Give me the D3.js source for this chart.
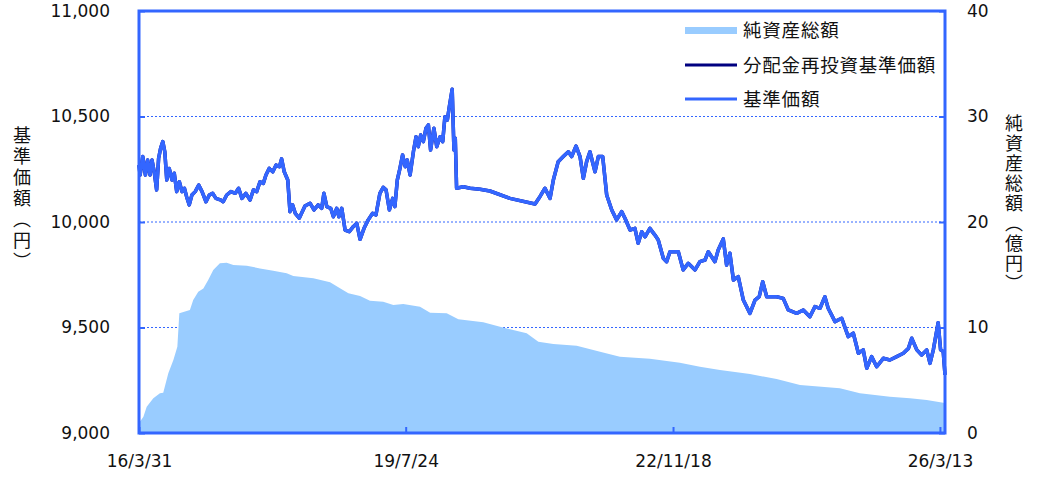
<!DOCTYPE html>
<html>
<head>
<meta charset="utf-8">
<script src="https://cdn.jsdelivr.net/npm/d3@7"></script>
<style>
body{margin:0;background:#fff;}
svg text{font-family:"DejaVu Sans",Verdana,sans-serif;fill:#111;}
svg text.jp{font-family:"Noto Sans CJK JP",sans-serif;}
</style>
</head>
<body>
<svg width="1038" height="478"></svg>
<script>
// days counted from 2016/3/31
var navDays = [0,5,17,29,39,50,59,69,80,89,98,108,117,126,137,150,160,171,183,195,206,216,228,240,255,271,286,304,319,334,349,372,382,398,417,437,452,467,485,504,519,534,549,564,576,591,607,622,637,647,659,675,685,697,709,727,753,776,794,813,829,839,852,870,882,897,907,920,935,954,972,988,1003,1021,1040,1060,1075,1093,1108,1121,1136,1151,1161,1172,1184,1196,1208,1217,1230,1245,1257,1267,1278,1290,1302,1313,1323,1338,1351,1366,1378,1388,1399,1408,1421,1429,1435,1441,1471,1502,1547,1592,1683,1797,1819,1842,1865,1880,1902,1925,1948,1963,1983,2001,2016,2031,2046,2069,2084,2104,2122,2145,2167,2190,2205,2228,2250,2265,2281,2296,2318,2341,2356,2379,2394,2409,2447,2469,2492,2523,2545,2568,2583,2613,2628,2651,2666,2681,2697,2719,2742,2772,2795,2814,2830,2848,2871,2893,2923,2946,2984,3014,3044,3067,3090,3112,3127,3158,3188,3218,3241,3264,3286,3302,3324,3347,3377,3407,3438,3468,3491,3506,3529,3551,3574,3589,3604,3626,3637,3649,3657];
var navValues = [10270,10223,10310,10223,10294,10223,10294,10238,10152,10302,10349,10381,10333,10199,10254,10199,10231,10144,10191,10144,10160,10120,10081,10128,10144,10175,10144,10096,10128,10136,10112,10104,10096,10128,10144,10136,10160,10112,10136,10104,10152,10144,10191,10183,10223,10254,10238,10270,10262,10299,10238,10199,10049,10081,10041,10018,10076,10089,10057,10081,10065,10136,10073,10065,10025,10065,10025,10065,9962,9954,9978,9994,9918,9970,10010,10041,10033,10136,10164,10152,10057,10112,10073,10199,10254,10318,10262,10294,10223,10333,10404,10357,10412,10381,10444,10460,10341,10444,10357,10404,10381,10499,10483,10546,10629,10341,10397,10160,10167,10160,10155,10147,10112,10085,10120,10160,10112,10199,10286,10310,10333,10310,10360,10310,10207,10286,10333,10238,10310,10310,10128,10057,10010,10049,10018,9962,9970,9899,9954,9930,9970,9938,9915,9828,9812,9859,9859,9773,9804,9773,9812,9820,9859,9812,9867,9920,9796,9852,9725,9741,9630,9567,9630,9646,9717,9646,9646,9646,9638,9583,9567,9583,9551,9599,9591,9646,9591,9528,9544,9457,9473,9378,9394,9307,9362,9314,9354,9346,9362,9378,9401,9449,9394,9370,9394,9330,9394,9523,9394,9386,9275];
var aumDays = [0,9,20,35,65,95,110,133,156,174,183,231,246,269,292,314,337,367,398,428,489,549,609,670,700,791,867,912,950,1003,1048,1108,1154,1199,1275,1321,1396,1449,1562,1638,1759,1812,1880,1986,2092,2182,2318,2454,2545,2636,2772,2893,2999,3180,3271,3407,3498,3574,3649,3657];
var aumValues = [1.0,1.2,1.55,2.49,3.29,3.76,3.82,5.66,6.92,8.18,11.35,11.66,12.6,13.4,13.7,14.5,15.45,16.08,16.14,15.92,15.86,15.6,15.38,15.14,14.88,14.66,14.28,13.71,13.24,12.99,12.54,12.45,12.13,12.23,11.97,11.4,11.35,10.78,10.49,10.08,9.45,8.66,8.44,8.28,7.71,7.23,7.04,6.66,6.28,5.97,5.59,5.12,4.55,4.24,3.76,3.44,3.29,3.13,2.87,2.85];
var xTickDates = ["2016-03-31","2019-07-24","2022-11-18","2026-03-13"];
var xTickLabels = ["16/3/31","19/7/24","22/11/18","26/3/13"];
var leftTicks = [9000,9500,10000,10500,11000];
var rightTicks = [0,10,20,30,40];
var legendNames = ["純資産総額","分配金再投資基準価額","基準価額"];
var endDay = 3657;

var svg = d3.select("svg"),
    pLeft = 139, pRight = 945, pTop = 11, pBottom = 433,
    blue = "#3366ff", navy = "#000080", fillc = "#99ccff";

var start = new Date(Date.UTC(2016, 2, 31));
var parseDay = d3.utcParse("%Y-%m-%d");

var x = d3.scaleUtc()
    .domain([start, d3.utcDay.offset(start, endDay)])
    .range([pLeft, pRight]);
var y = d3.scaleLinear().domain([9000, 11000]).range([pBottom, pTop]);
var y2 = d3.scaleLinear().domain([0, 40]).range([pBottom, pTop]);

var nav = navDays.map(function(d, i) { return {date: d3.utcDay.offset(start, d), v: navValues[i]}; });
var aum = aumDays.map(function(d, i) { return {date: d3.utcDay.offset(start, d), v: aumValues[i]}; });

// grid
svg.append("g").selectAll("line")
    .data(leftTicks.slice(1, -1))
  .enter().append("line")
    .attr("x1", pLeft).attr("x2", pRight)
    .attr("y1", function(d) { return y(d); })
    .attr("y2", function(d) { return y(d); })
    .attr("stroke", blue).attr("stroke-width", 1)
    .attr("stroke-dasharray", "2,2");

var area = d3.area()
    .x(function(d) { return x(d.date); })
    .y0(pBottom)
    .y1(function(d) { return y2(d.v); });

svg.append("path").datum(aum)
    .attr("fill", fillc)
    .attr("d", area);

var line = d3.line()
    .x(function(d) { return x(d.date); })
    .y(function(d) { return y(d.v); });

svg.append("path").datum(nav)
    .attr("fill", "none").attr("stroke", navy)
    .attr("stroke-width", 3.5).attr("stroke-linejoin", "round")
    .attr("d", line);
svg.append("path").datum(nav)
    .attr("fill", "none").attr("stroke", blue)
    .attr("stroke-width", 3.5).attr("stroke-linejoin", "round")
    .attr("d", line);

// frame
svg.append("rect")
    .attr("x", pLeft).attr("y", pTop)
    .attr("width", pRight - pLeft).attr("height", pBottom - pTop)
    .attr("fill", "none").attr("stroke", blue).attr("stroke-width", 3);

// axes (ticks point inward)
var yAxis = d3.axisLeft(y).tickValues(leftTicks).tickSizeInner(-6).tickSizeOuter(0)
    .tickPadding(29).tickFormat(d3.format(","));
var gl = svg.append("g").attr("transform", "translate(" + pLeft + ",0)").call(yAxis);

var y2Axis = d3.axisRight(y2).tickValues(rightTicks).tickSizeInner(-6).tickSizeOuter(0)
    .tickPadding(22);
var gr = svg.append("g").attr("transform", "translate(" + pRight + ",0)").call(y2Axis);

var xAxis = d3.axisBottom(x).tickValues(xTickDates.map(parseDay)).tickSizeInner(-6).tickSizeOuter(0)
    .tickPadding(22)
    .tickFormat(function(d, i) { return xTickLabels[i]; });
var gb = svg.append("g").attr("transform", "translate(0," + pBottom + ")").call(xAxis);

[gl, gr, gb].forEach(function(g) {
  g.select(".domain").remove();
  g.selectAll(".tick line").attr("stroke", blue).attr("stroke-width", 2);
  g.selectAll(".tick text").attr("font-size", 17).attr("fill", "#111")
    .style("font-family", '"DejaVu Sans", Verdana, sans-serif');
});

// axis titles
svg.append("text").attr("class", "jp")
    .attr("x", 22).attr("y", 126)
    .attr("font-size", 18)
    .style("writing-mode", "vertical-rl")
    .style("letter-spacing", "3px")
    .text("基準価額（円）");
svg.append("text").attr("class", "jp")
    .attr("x", 1014).attr("y", 114)
    .attr("font-size", 18)
    .style("writing-mode", "vertical-rl")
    .style("letter-spacing", "2px")
    .text("純資産総額（億円）");

// legend
var lg = svg.append("g");
lg.append("rect").attr("x", 685).attr("y", 27).attr("width", 52).attr("height", 7).attr("fill", fillc);
lg.append("line").attr("x1", 685).attr("x2", 737).attr("y1", 65).attr("y2", 65)
    .attr("stroke", navy).attr("stroke-width", 3);
lg.append("line").attr("x1", 685).attr("x2", 737).attr("y1", 99).attr("y2", 99)
    .attr("stroke", blue).attr("stroke-width", 3);
lg.selectAll("text.lt")
    .data(legendNames)
  .enter().append("text")
    .attr("class", "jp lt")
    .attr("x", 743)
    .attr("y", function(d, i) { return 37 + i * 34.5; })
    .attr("font-size", 18.5)
    .style("letter-spacing", "0.8px")
    .text(function(d) { return d; });
</script>
</body>
</html>
